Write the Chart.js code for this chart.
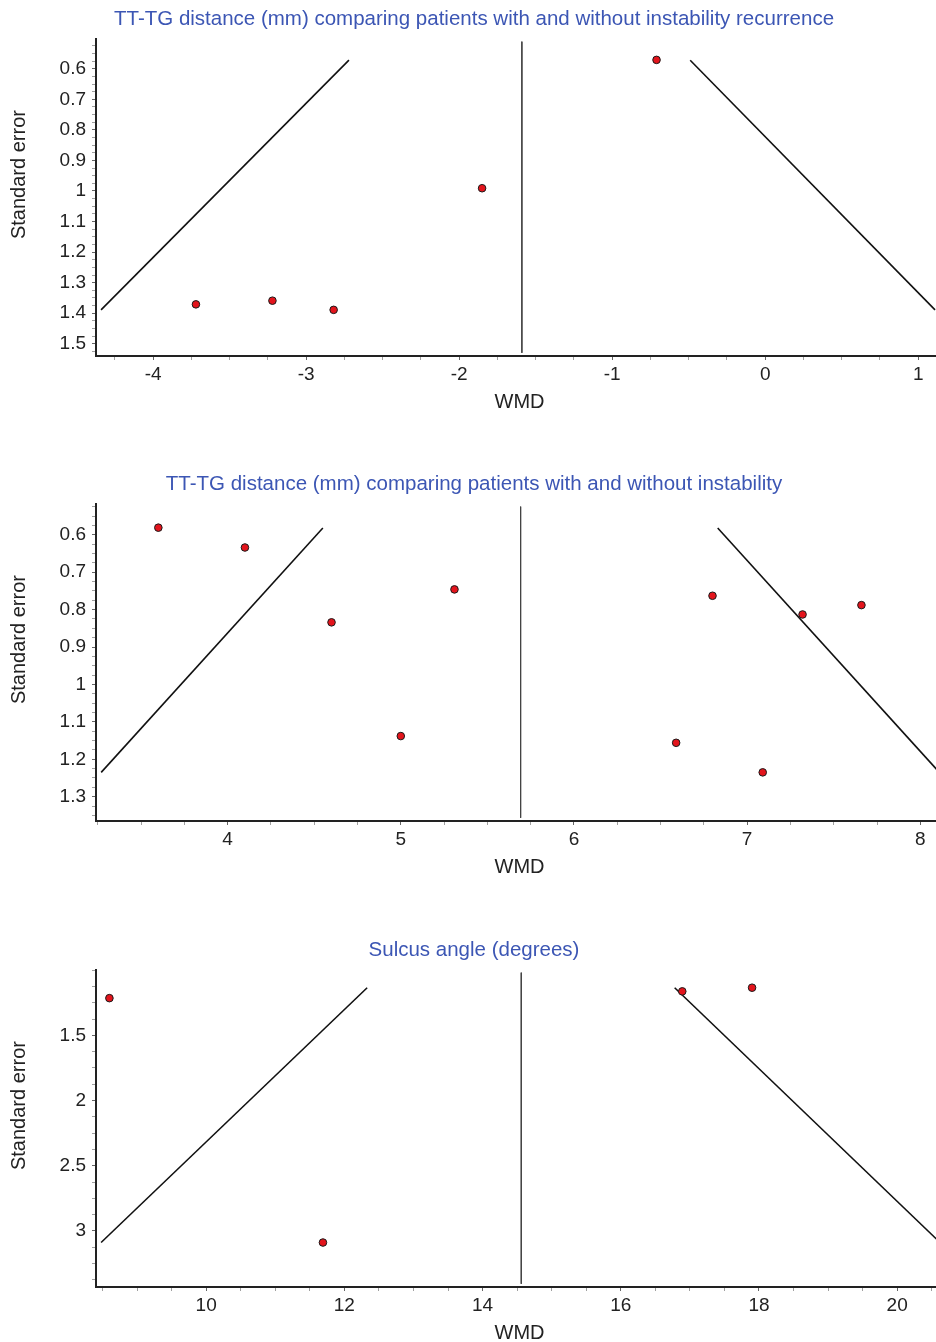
<!DOCTYPE html>
<html><head><meta charset="utf-8">
<script src="https://cdn.jsdelivr.net/npm/chart.js@4.4.1/dist/chart.umd.min.js"></script>
<style>
html,body{margin:0;padding:0;background:#fff;overflow:hidden;width:936px;height:1342px;}
.panel{position:absolute;left:0;width:948px;height:465px;}
canvas{display:block;}
</style></head><body>
<div class="panel" style="top:0"><canvas id="c1" width="948" height="465"></canvas></div>
<div class="panel" style="top:465px"><canvas id="c2" width="948" height="465"></canvas></div>
<div class="panel" style="top:931px"><canvas id="c3" width="948" height="465"></canvas></div>
<script>
// ---------- Panel 1: TT-TG distance, instability recurrence ----------
const p1Title = 'TT-TG distance (mm) comparing patients with and without instability recurrence';
const p1Wmd = [-3.72, -3.22, -2.82, -1.85, -0.71];
const p1Se  = [1.371, 1.359, 1.389, 0.991, 0.571];
const p1Pooled = -1.59;
const p1FunnelSe = [0.572, 1.389];
const p1FunnelLeftX = [-2.72, -4.34];
const p1FunnelRightX = [-0.49, 1.11];
const p1XRange = [-4.373, 1.162];
const p1YRange = [0.503, 1.540];
const p1XTickLabels = ['-4', '-3', '-2', '-1', '0', '1'];
const p1YTickLabels = ['0.6', '0.7', '0.8', '0.9', '1', '1.1', '1.2', '1.3', '1.4', '1.5'];
const p1XMinorStep = 0.25;
const p1YMinorStep = 0.025;

// ---------- Panel 2: TT-TG distance, instability ----------
const p2Title = 'TT-TG distance (mm) comparing patients with and without instability';
const p2Wmd = [3.60, 4.10, 4.60, 5.00, 5.31, 6.80, 7.32, 7.66, 6.59, 7.09];
const p2Se  = [0.581, 0.634, 0.834, 1.138, 0.746, 0.763, 0.813, 0.788, 1.156, 1.235];
const p2Pooled = 5.692;
const p2FunnelSe = [0.582, 1.235];
const p2FunnelLeftX = [4.55, 3.27];
const p2FunnelRightX = [6.83, 8.11];
const p2XRange = [3.240, 8.131];
const p2YRange = [0.518, 1.365];
const p2XTickLabels = ['4', '5', '6', '7', '8'];
const p2YTickLabels = ['0.6', '0.7', '0.8', '0.9', '1', '1.1', '1.2', '1.3'];
const p2XMinorStep = 0.25;
const p2YMinorStep = 0.025;

// ---------- Panel 3: Sulcus angle ----------
const p3Title = 'Sulcus angle (degrees)';
const p3Wmd = [8.60, 11.69, 16.89, 17.90];
const p3Se  = [1.215, 3.089, 1.163, 1.135];
const p3Pooled = 14.56;
const p3FunnelSe = [1.135, 3.089];
const p3FunnelLeftX = [12.33, 8.48];
const p3FunnelRightX = [16.78, 20.62];
const p3XRange = [8.406, 20.663];
const p3YRange = [1.0, 3.43];
const p3XTickLabels = ['10', '12', '14', '16', '18', '20'];
const p3YTickLabels = ['1.5', '2', '2.5', '3'];
const p3XMinorStep = 0.5;
const p3YMinorStep = 0.125;

// ---------- rendering ----------
const FAMILY = "'Liberation Sans', Arial, Helvetica, sans-serif";
Chart.defaults.font.family = FAMILY;

const yTitlePlugin = {
  id: 'yTitle',
  afterDraw(chart, args, opts) {
    const {ctx, chartArea} = chart;
    ctx.save();
    ctx.translate(opts.x, (chartArea.top + chartArea.bottom) / 2 + opts.dy);
    ctx.rotate(-Math.PI / 2);
    ctx.font = '20px ' + FAMILY;
    ctx.fillStyle = '#222';
    ctx.textAlign = 'center';
    ctx.textBaseline = 'middle';
    ctx.fillText(opts.text, 0, 0);
    ctx.restore();
  }
};
Chart.register(yTitlePlugin);

function tickValues(range, step, majors) {
  const out = [];
  const s = Math.ceil(range[0] / step - 1e-9), e = Math.floor(range[1] / step + 1e-9);
  for (let i = s; i <= e; i++) out.push(+(i * step).toFixed(6));
  majors.forEach(m => { if (!out.some(v => Math.abs(v - m) < 1e-6)) out.push(m); });
  return out.sort((a, b) => a - b);
}

function axis(range, step, labels, isX) {
  const majors = labels.map(Number);
  const vals = tickValues(range, step, majors);
  const isMajor = v => majors.some(m => Math.abs(m - v) < 1e-6);
  return {
    type: 'linear',
    reverse: !isX,
    min: range[0],
    max: range[1],
    afterBuildTicks: s => { s.ticks = vals.map(v => ({value: v})); },
    afterFit: s => { if (isX) s.height = 109; else s.width = 96; },
    ticks: {
      autoSkip: false, maxRotation: 0, minRotation: 0,
      padding: isX ? 3 : 6,
      color: '#222',
      font: {family: FAMILY, size: 19},
      callback: v => { const i = majors.findIndex(m => Math.abs(m - v) < 1e-6); return i >= 0 ? labels[i] : ''; }
    },
    grid: {
      drawOnChartArea: false, drawTicks: true, tickLength: 4, tickWidth: 1,
      tickColor: c => (c.tick && isMajor(c.tick.value)) ? '#666' : '#a0a0a0'
    },
    border: {display: true, color: '#222', width: 2},
    title: isX ? {display: true, text: 'WMD', color: '#222', font: {family: FAMILY, size: 20}, padding: {top: 0, bottom: 51}} : {display: false}
  };
}

function makePanel(id, title, wmd, se, pooled, fSe, fL, fR, xr, yr, xl, yl, xs, ys) {
  const pts = wmd.map((x, i) => ({x: x, y: se[i]}));
  new Chart(document.getElementById(id), {
    type: 'scatter',
    data: {
      datasets: [
        {data: pts, pointRadius: 3.8, pointBackgroundColor: '#e3141c', pointBorderColor: '#1a1a1a', pointBorderWidth: 1, showLine: false},
        {data: fSe.map((s, i) => ({x: fL[i], y: s})), showLine: true, borderColor: '#111', borderWidth: 1.6, pointRadius: 0, tension: 0},
        {data: fSe.map((s, i) => ({x: fR[i], y: s})), showLine: true, borderColor: '#111', borderWidth: 1.6, pointRadius: 0, tension: 0},
        {data: [{x: pooled, y: yr[0] + (yr[1] - yr[0]) * 0.008}, {x: pooled, y: yr[1] - (yr[1] - yr[0]) * 0.01}], showLine: true, borderColor: '#444', borderWidth: 1, pointRadius: 0, tension: 0}
      ]
    },
    options: {
      responsive: false,
      animation: false,
      events: [],
      layout: {padding: 0},
      scales: {x: axis(xr, xs, xl, true), y: axis(yr, ys, yl, false)},
      plugins: {
        legend: {display: false},
        tooltip: {enabled: false},
        title: {display: true, text: title, color: '#3c56b4', font: {family: FAMILY, size: 20.5, weight: 'normal'}, padding: {top: 7, bottom: 7.5}},
        yTitle: {text: 'Standard error', x: 19, dy: -23}
      }
    }
  });
}

makePanel('c1', p1Title, p1Wmd, p1Se, p1Pooled, p1FunnelSe, p1FunnelLeftX, p1FunnelRightX, p1XRange, p1YRange, p1XTickLabels, p1YTickLabels, p1XMinorStep, p1YMinorStep);
makePanel('c2', p2Title, p2Wmd, p2Se, p2Pooled, p2FunnelSe, p2FunnelLeftX, p2FunnelRightX, p2XRange, p2YRange, p2XTickLabels, p2YTickLabels, p2XMinorStep, p2YMinorStep);
makePanel('c3', p3Title, p3Wmd, p3Se, p3Pooled, p3FunnelSe, p3FunnelLeftX, p3FunnelRightX, p3XRange, p3YRange, p3XTickLabels, p3YTickLabels, p3XMinorStep, p3YMinorStep);
</script>
</body></html>
